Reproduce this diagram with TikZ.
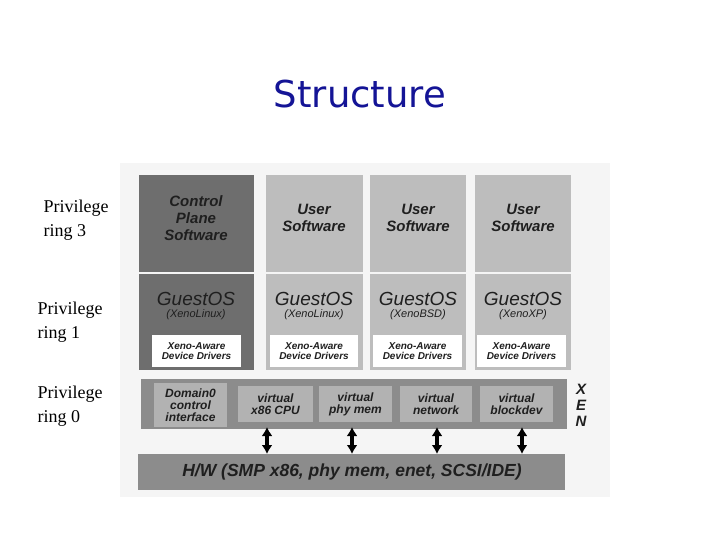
\documentclass[tikz,border=0pt]{standalone}
\usepackage{fontspec}
\setmainfont{Liberation Serif}
\newfontfamily\sansf{Liberation Sans}
\newfontfamily\titlef{DejaVu Sans}
\usetikzlibrary{arrows.meta}
\begin{document}
\begin{tikzpicture}[x=1pt,y=-1pt,
  lbl/.style={font=\sansf\bfseries\itshape\fontsize{15}{17}\selectfont,text=black!88,align=center},
  sm/.style={font=\sansf\bfseries\itshape\fontsize{10}{10}\selectfont,text=black!88,align=center},
  vb/.style={font=\sansf\bfseries\itshape\fontsize{12}{12}\selectfont,text=black!88,align=center},
  priv/.style={font=\fontsize{18}{24}\selectfont,align=left,anchor=north west},
  arr/.style={line width=4pt,{Latex[length=9pt,width=11pt]}-{Latex[length=9pt,width=11pt]},black}]
\fill[white] (0,0) rectangle (720,540);
\fill[black!4] (120,163) rectangle (610,497);
\node[font=\titlef\fontsize{37}{40}\selectfont,text={rgb,255:red,20;green,20;blue,150}] (title) at (360,94) {Structure};
\node[priv] (p3) at (40,196) {Privilege\\ ring 3};
\node[priv] (p1) at (34,298) {Privilege\\ ring 1};
\node[priv] (p0) at (34,382) {Privilege\\ ring 0};
\fill[black!57] (139,175) rectangle (254,272);
\fill[black!57] (139,274) rectangle (254,370);
\foreach \a/\b/\n in {266/363/2,370/466/3,475/571/4}{
  \fill[black!26] (\a,175) rectangle (\b,272);
  \fill[black!26] (\a,274) rectangle (\b,370);
}
\node[lbl] (cp) at (196,218) {Control\\Plane\\Software};
\node[lbl] (u2) at (314,218) {User\\Software};
\node[lbl] (u3) at (418,218) {User\\Software};
\node[lbl] (u4) at (523,218) {User\\Software};
\foreach \x/\s/\n in {196/XenoLinux/1,314/XenoLinux/2,418/XenoBSD/3,523/XenoXP/4}{
  \node[font=\sansf\itshape\fontsize{19}{19}\selectfont,text=black!88] (g\n) at (\x,299) {GuestOS};
  \node[font=\sansf\itshape\fontsize{11}{11}\selectfont,text=black!88] (gs\n) at (\x,315) {(\s)};
}
\foreach \a/\b/\n in {152/241/1,270/358/2,373/462/3,477/566/4}{
  \fill[white] (\a,335) rectangle (\b,367);
  \node[sm] (d\n) at ({(\a+\b)/2},351) {Xeno-Aware\\Device Drivers};
}
\fill[black!45] (141,379) rectangle (567,429);
\fill[black!30] (154,383) rectangle (227,427);
\node[vb] (dom) at (190.5,405) {Domain0\\control\\interface};
\foreach \a/\b/\t/\n in {238/313/{virtual\\x86 CPU}/1,319/392/{virtual\\phy mem}/2,400/472/{virtual\\network}/3,480/553/{virtual\\blockdev}/4}{
  \fill[black!30] (\a,386) rectangle (\b,422);
  \node[vb] (v\n) at ({(\a+\b)/2},404) {\t};
}
\node[font=\sansf\bfseries\itshape\fontsize{15}{16}\selectfont,align=center,text=black!88] (xen) at (581,405) {X\\E\\N};
\fill[black!45] (138,454) rectangle (565,490);
\node[font=\sansf\bfseries\itshape\fontsize{17.5}{18}\selectfont,text=black!88] (hw) at (352,472) {H/W (SMP x86, phy mem, enet, SCSI/IDE)};
\foreach \x/\n in {267/1,352/2,437/3,522/4}{
  \coordinate (at\n) at (\x,427);
  \coordinate (ab\n) at (\x,454);
  \draw[arr] (at\n) -- (ab\n);
}
\end{tikzpicture}
\end{document}
